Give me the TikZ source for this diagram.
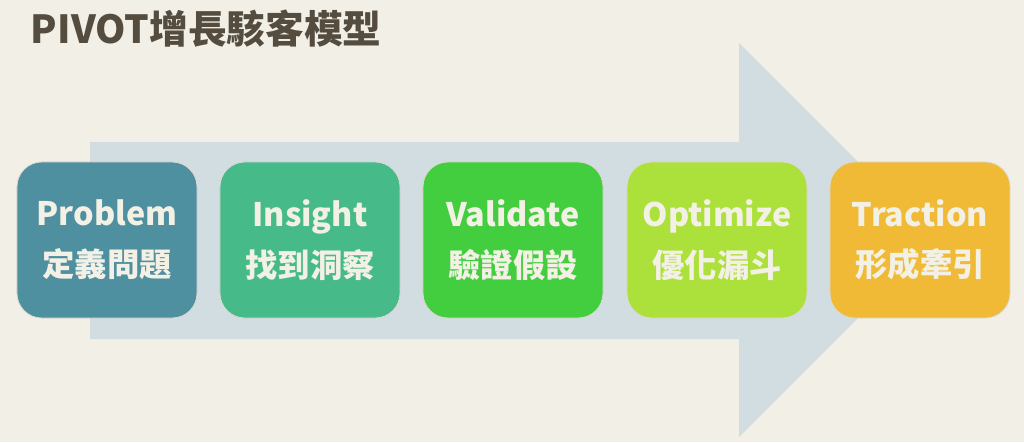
\documentclass[tikz,border=0pt]{standalone}
\usepackage{fontspec}
\setmainfont{Noto Sans CJK TC}
\definecolor{bgcol}{HTML}{F2F0E6}
\definecolor{arrowcol}{HTML}{D1DDE1}
\definecolor{titlecol}{HTML}{554C40}
\definecolor{txtcol}{HTML}{F3F0E5}
\definecolor{problemcol}{HTML}{4E8FA0}
\definecolor{insightcol}{HTML}{46BA88}
\definecolor{validatecol}{HTML}{42CE3E}
\definecolor{optimizecol}{HTML}{ACE03A}
\definecolor{tractioncol}{HTML}{F0BA36}
\begin{document}
\begin{tikzpicture}[x=0.025cm, y=-0.025cm,
    stage/.style={draw=txtcol!80!gray, line width=0.6pt, rounded corners=0.62cm,
      minimum width=4.5cm, minimum height=3.9cm, inner sep=0pt,
      text=txtcol, align=center, font=\bfseries\fontsize{23}{36}\selectfont}]
        \fill[bgcol] (0,0) rectangle (1024,442);
        \node[anchor=west, text=titlecol, font=\bfseries\fontsize{27.5}{32}\selectfont] (title) at (26,29) {PIVOT增長駭客模型};

        % big arrow behind the stages
        \fill[arrowcol] (90,142) -- (739,142) -- (739,43) -- (936,240) -- (739,437) -- (739,339) -- (90,339) -- cycle;

        \node[stage, fill=problemcol] (problem) at (107,240) {Problem\\定義問題};
        \node[stage, fill=insightcol] (insight) at (310,240) {Insight\\找到洞察};
        \node[stage, fill=validatecol] (validate) at (513,240) {Validate\\驗證假設};
        \node[stage, fill=optimizecol] (optimize) at (717,240) {Optimize\\優化漏斗};
        \node[stage, fill=tractioncol] (traction) at (920,240) {Traction\\形成牽引};
    \end{tikzpicture}
\end{document}
